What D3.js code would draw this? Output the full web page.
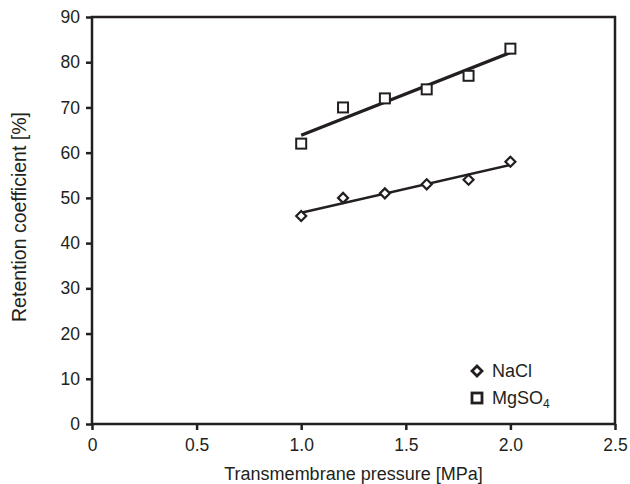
<!DOCTYPE html>
<html><head><meta charset="utf-8">
<script src="https://cdn.jsdelivr.net/npm/d3@7/dist/d3.min.js"></script>
<style>body{margin:0;background:#fff}svg{display:block}</style>
</head><body>
<svg id="c" width="630" height="484"></svg>
<script>
const pressure = [1.0, 1.2, 1.4, 1.6, 1.8, 2.0];
const nacl = [46, 50, 51, 53, 54, 58];
const mgso4 = [62, 70, 72, 74, 77, 83];
const xTicks = [0, 0.5, 1.0, 1.5, 2.0, 2.5];
const xTickLabels = ["0", "0.5", "1.0", "1.5", "2.0", "2.5"];
const yTicks = [0, 10, 20, 30, 40, 50, 60, 70, 80, 90];

const ink = "#231f20";
const font = "'Liberation Sans', Arial, sans-serif";
const svg = d3.select("#c");
const L = 92, R = 615, T = 17, B = 424;
const x = d3.scaleLinear().domain([0, 2.5]).range([L, R]);
const y = d3.scaleLinear().domain([0, 90]).range([B, T]);

// frame
svg.append("rect").attr("x", L).attr("y", T).attr("width", R - L).attr("height", B - T)
  .attr("fill", "none").attr("stroke", ink).attr("stroke-width", 2.5);

const xa = svg.append("g").attr("transform", `translate(0,${B})`)
  .call(d3.axisBottom(x).tickValues(xTicks).tickFormat((d, i) => xTickLabels[i]).tickSize(6).tickPadding(9));
const ya = svg.append("g").attr("transform", `translate(${L},0)`)
  .call(d3.axisLeft(y).tickValues(yTicks).tickSize(6).tickPadding(6));
[xa, ya].forEach(a => {
  a.select(".domain").remove();
  a.selectAll("line").attr("stroke", ink).attr("stroke-width", 2.5);
  a.selectAll("text").attr("fill", ink).style("font-family", font).style("font-size", "17.5px");
});

function fit(xs, ys) {
  const mx = d3.mean(xs), my = d3.mean(ys);
  const s = d3.sum(xs, (v, i) => (v - mx) * (ys[i] - my)) / d3.sum(xs, v => (v - mx) ** 2);
  return v => my + s * (v - mx);
}
const series = [
  {vals: nacl, w: 2.4, shape: "diamond"},
  {vals: mgso4, w: 3.2, shape: "square"}
];
const x0 = d3.min(pressure), x1 = d3.max(pressure);
series.forEach(s => {
  const f = fit(pressure, s.vals);
  svg.append("line").attr("x1", x(x0)).attr("y1", y(f(x0))).attr("x2", x(x1)).attr("y2", y(f(x1)))
    .attr("stroke", ink).attr("stroke-width", s.w);
});
function marker(g, shape, cx, cy, sw) {
  if (shape === "square") {
    g.append("rect").attr("x", cx - 5).attr("y", cy - 5).attr("width", 10).attr("height", 10)
      .attr("fill", "#fff").attr("stroke", ink).attr("stroke-width", sw || 2);
  } else {
    g.append("path").attr("d", `M${cx},${cy-5}L${cx+5},${cy}L${cx},${cy+5}L${cx-5},${cy}Z`)
      .attr("fill", "#fff").attr("stroke", ink).attr("stroke-width", sw || 2.2);
  }
}
series.forEach(s => {
  const g = svg.append("g");
  pressure.forEach((p, i) => marker(g, s.shape, x(p), y(s.vals[i])));
});

// legend
const lg = svg.append("g");
marker(lg, "diamond", 477, 371, 2.8);
marker(lg, "square", 477, 398, 2.8);
lg.append("text").attr("x", 492).attr("y", 377).attr("fill", ink)
  .style("font-family", font).style("font-size", "18px").text("NaCl");
const t2 = lg.append("text").attr("x", 492).attr("y", 404).attr("fill", ink)
  .style("font-family", font).style("font-size", "18px");
t2.append("tspan").text("MgSO");
t2.append("tspan").attr("dy", 4).style("font-size", "12px").text("4");

// titles
svg.append("text").attr("x", (L + R) / 2).attr("y", 480).attr("text-anchor", "middle")
  .attr("fill", ink).style("font-family", font).style("font-size", "18px")
  .text("Transmembrane pressure [MPa]");
svg.append("text").attr("transform", `translate(26,217) rotate(-90)`).attr("text-anchor", "middle")
  .attr("fill", ink).style("font-family", font).style("font-size", "19.5px")
  .text("Retention coefficient [%]");
</script>
</body></html>
